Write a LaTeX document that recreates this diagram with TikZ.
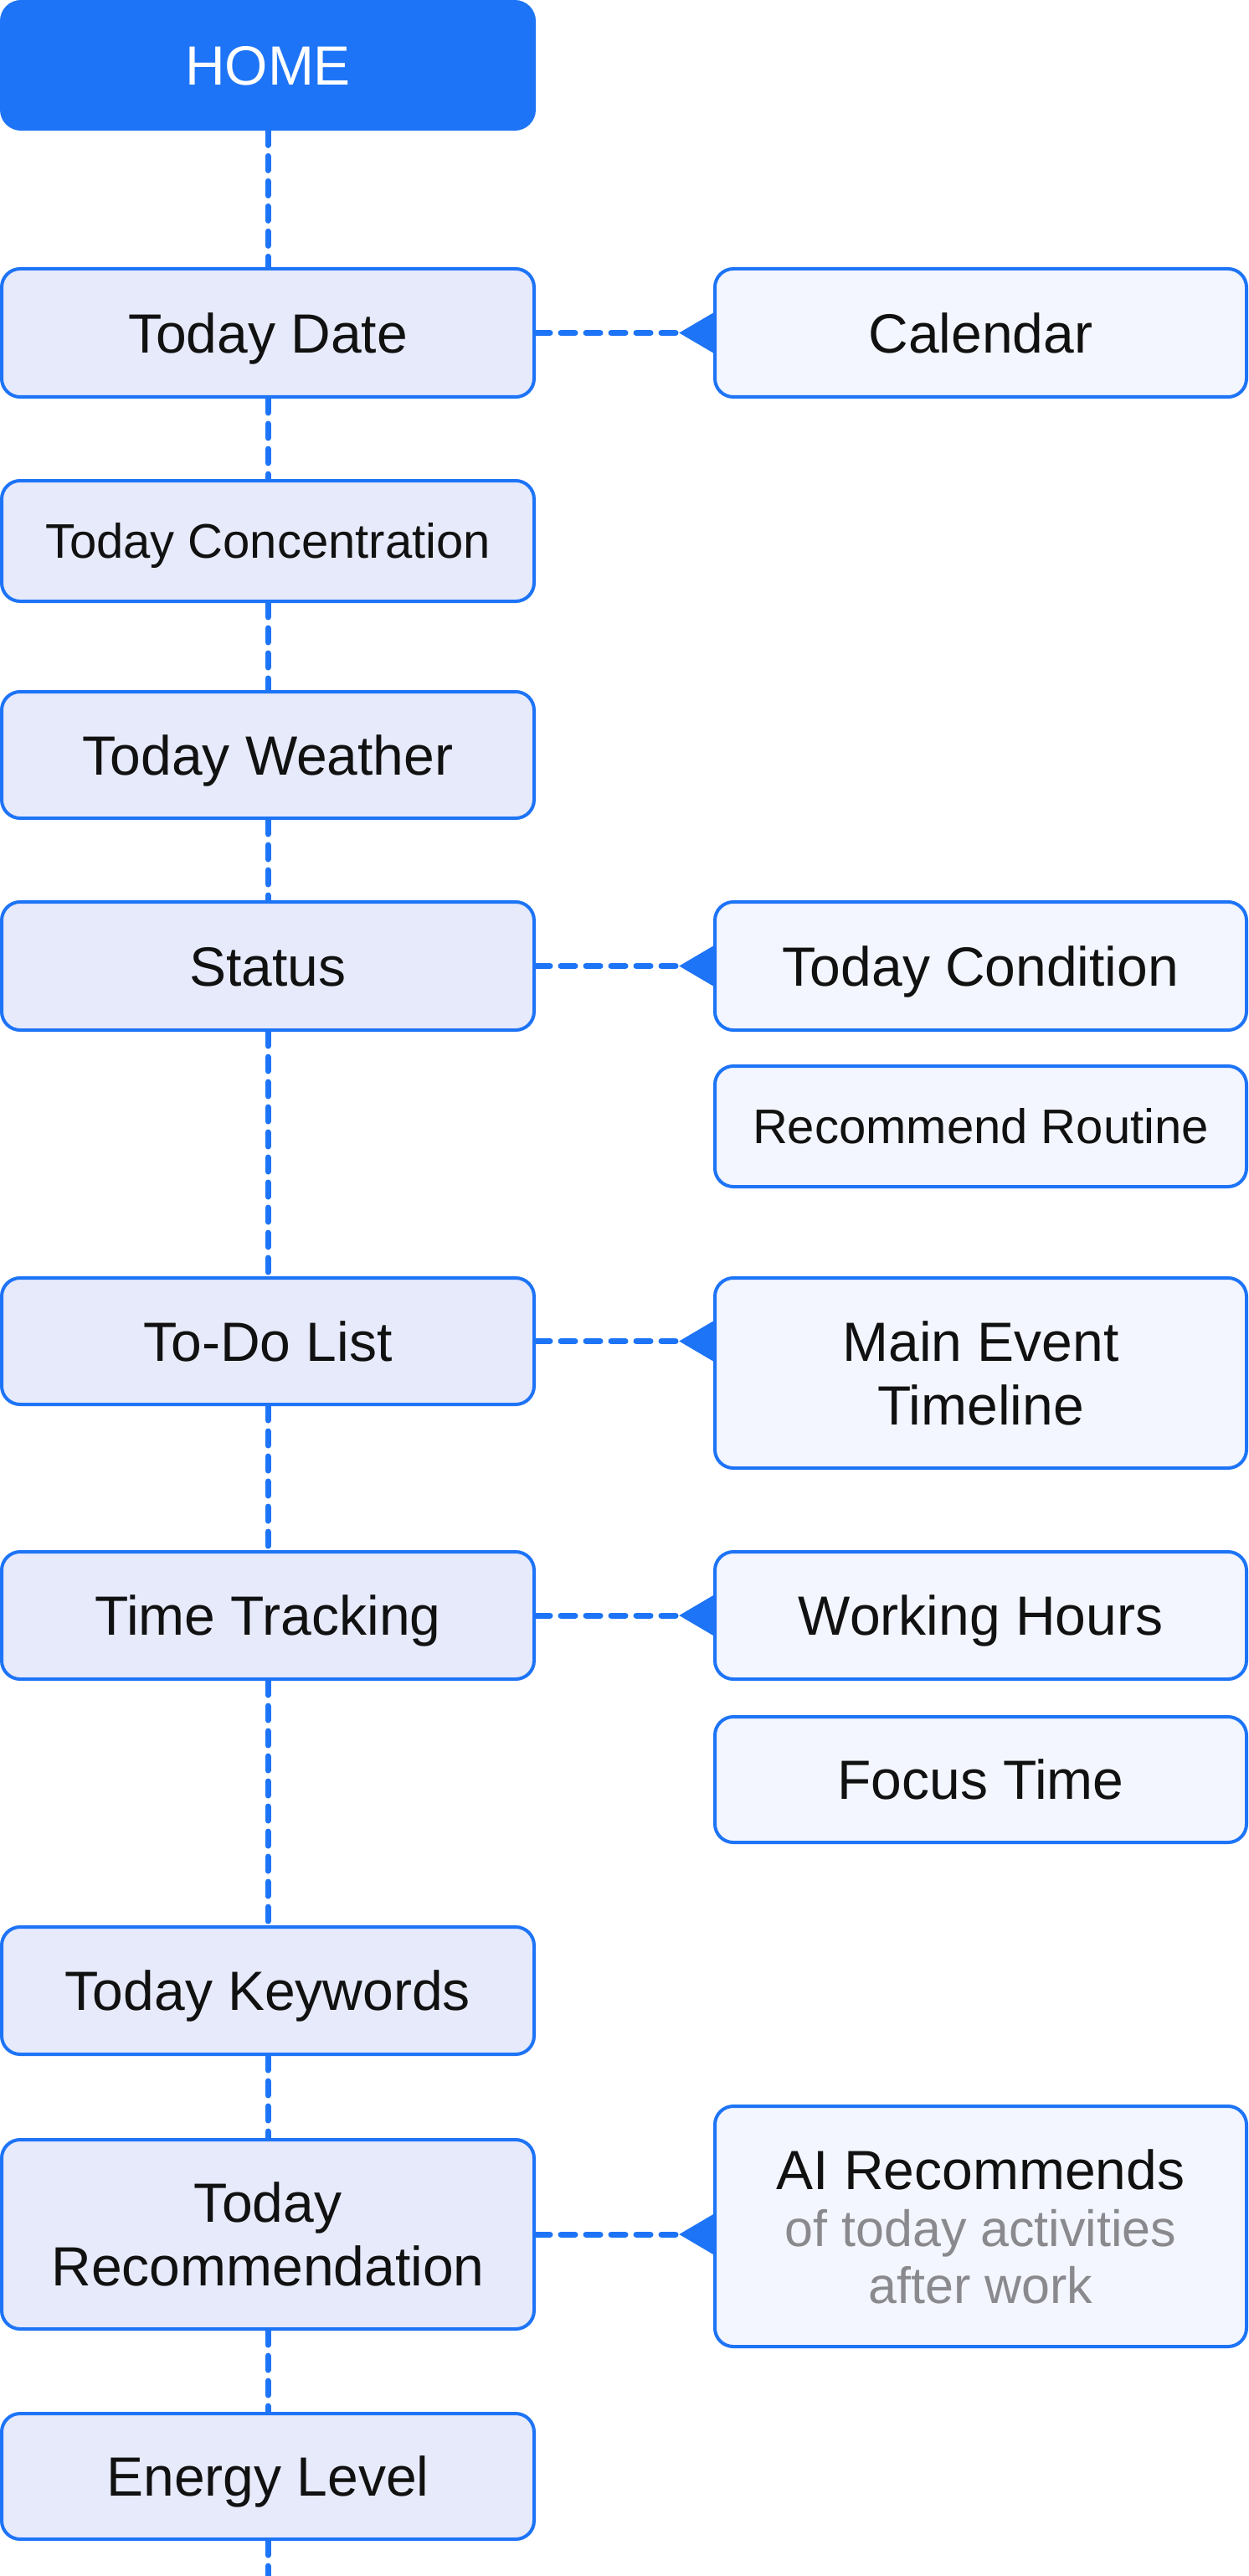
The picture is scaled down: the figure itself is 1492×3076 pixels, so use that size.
\documentclass[tikz,border=0pt]{standalone}
\usepackage{fontspec}
\setmainfont{Liberation Sans}
\usetikzlibrary{arrows.meta}
\definecolor{blu}{HTML}{1E74F6}
\definecolor{lfill}{HTML}{E6EAFB}
\definecolor{rfill}{HTML}{F3F6FE}
\definecolor{ink}{HTML}{111111}
\definecolor{greytxt}{HTML}{8A8A8E}
\begin{document}
\begin{tikzpicture}[x=0.5pt,y=-0.5pt,
  box/.style={draw=blu, line width=2pt, rounded corners=11pt, inner sep=0pt,
    align=center, text=ink, font=\fontsize{33}{38}\selectfont,
    text height=23.6pt, text depth=0pt},
  lbox/.style={box, fill=lfill, minimum width=318pt},
  rbox/.style={box, fill=rfill, minimum width=317.5pt},
  small/.style={font=\fontsize{29}{34}\selectfont, text height=20.8pt},
  twoline/.style={text height=61.6pt},
  link/.style={draw=blu, line width=3.5pt, line cap=round, dash pattern=on 8.5pt off 6.5pt},
  arr/.style={link, -{Triangle[reversed,length=20.5pt,width=23pt]}}
]
\useasboundingbox (0,0) rectangle (1492,3076);

% left column
\node[fill=blu, draw=none, rounded corners=12.5pt, minimum width=320pt, minimum height=78pt,
  inner sep=0pt, text=white, font=\fontsize{33}{38}\selectfont,
  text height=23.6pt, text depth=0pt] (home) at (320,78) {HOME};
\node[lbox, minimum height=76.5pt] (date) at (320,397.5) {Today Date};
\node[lbox, small, minimum height=72pt] (conc) at (320,646) {Today Concentration};
\node[lbox, minimum height=75.5pt] (weather) at (320,901.5) {Today Weather};
\node[lbox, minimum height=76.5pt] (status) at (320,1153.5) {Status};
\node[lbox, minimum height=75.5pt] (todo) at (320,1601.5) {To-Do List};
\node[lbox, minimum height=76pt] (track) at (320,1929) {Time Tracking};
\node[lbox, minimum height=76pt] (keys) at (320,2377) {Today Keywords};
\node[lbox, twoline, minimum height=113pt] (rec) at (320,2668) {Today\\Recommendation};
\node[lbox, minimum height=75pt] (energy) at (320,2957) {Energy Level};
\coordinate (bot) at (320,3076);

% right column
\node[rbox, minimum height=76.5pt] (cal) at (1171.5,397.5) {Calendar};
\node[rbox, minimum height=76.5pt] (cond) at (1171.5,1153.5) {Today Condition};
\node[rbox, small, minimum height=72pt] (routine) at (1171.5,1345) {Recommend Routine};
\node[rbox, twoline, minimum height=113.5pt] (event) at (1171.5,1639.5) {Main Event\\Timeline};
\node[rbox, minimum height=76pt] (work) at (1171.5,1929) {Working Hours};
\node[rbox, minimum height=75pt] (focus) at (1171.5,2125) {Focus Time};
\node[rbox, minimum height=143.5pt, font=\fontsize{33}{34}\selectfont, text height=91.6pt] (ai) at (1171.5,2658.5)
  {AI Recommends\\{\color{greytxt}\fontsize{30.5}{34}\selectfont of today activities}\\{\color{greytxt}\fontsize{30.5}{34}\selectfont after work}};

% vertical spine
\draw[link] (home.south) -- (date.north);
\draw[link] (date.south) -- (conc.north);
\draw[link] (conc.south) -- (weather.north);
\draw[link] (weather.south) -- (status.north);
\draw[link] (status.south) -- (todo.north);
\draw[link] (todo.south) -- (track.north);
\draw[link] (track.south) -- (keys.north);
\draw[link] (keys.south) -- (rec.north);
\draw[link] (rec.south) -- (energy.north);
\draw[link] (energy.south) -- (bot);

% side links
\draw[arr] (date.east) -- (cal.west);
\draw[arr] (status.east) -- (cond.west);
\draw[arr] (todo.east) -- (todo.east -| event.west);
\draw[arr] (track.east) -- (work.west);
\draw[arr] (rec.east) -- (rec.east -| ai.west);
\end{tikzpicture}
\end{document}
